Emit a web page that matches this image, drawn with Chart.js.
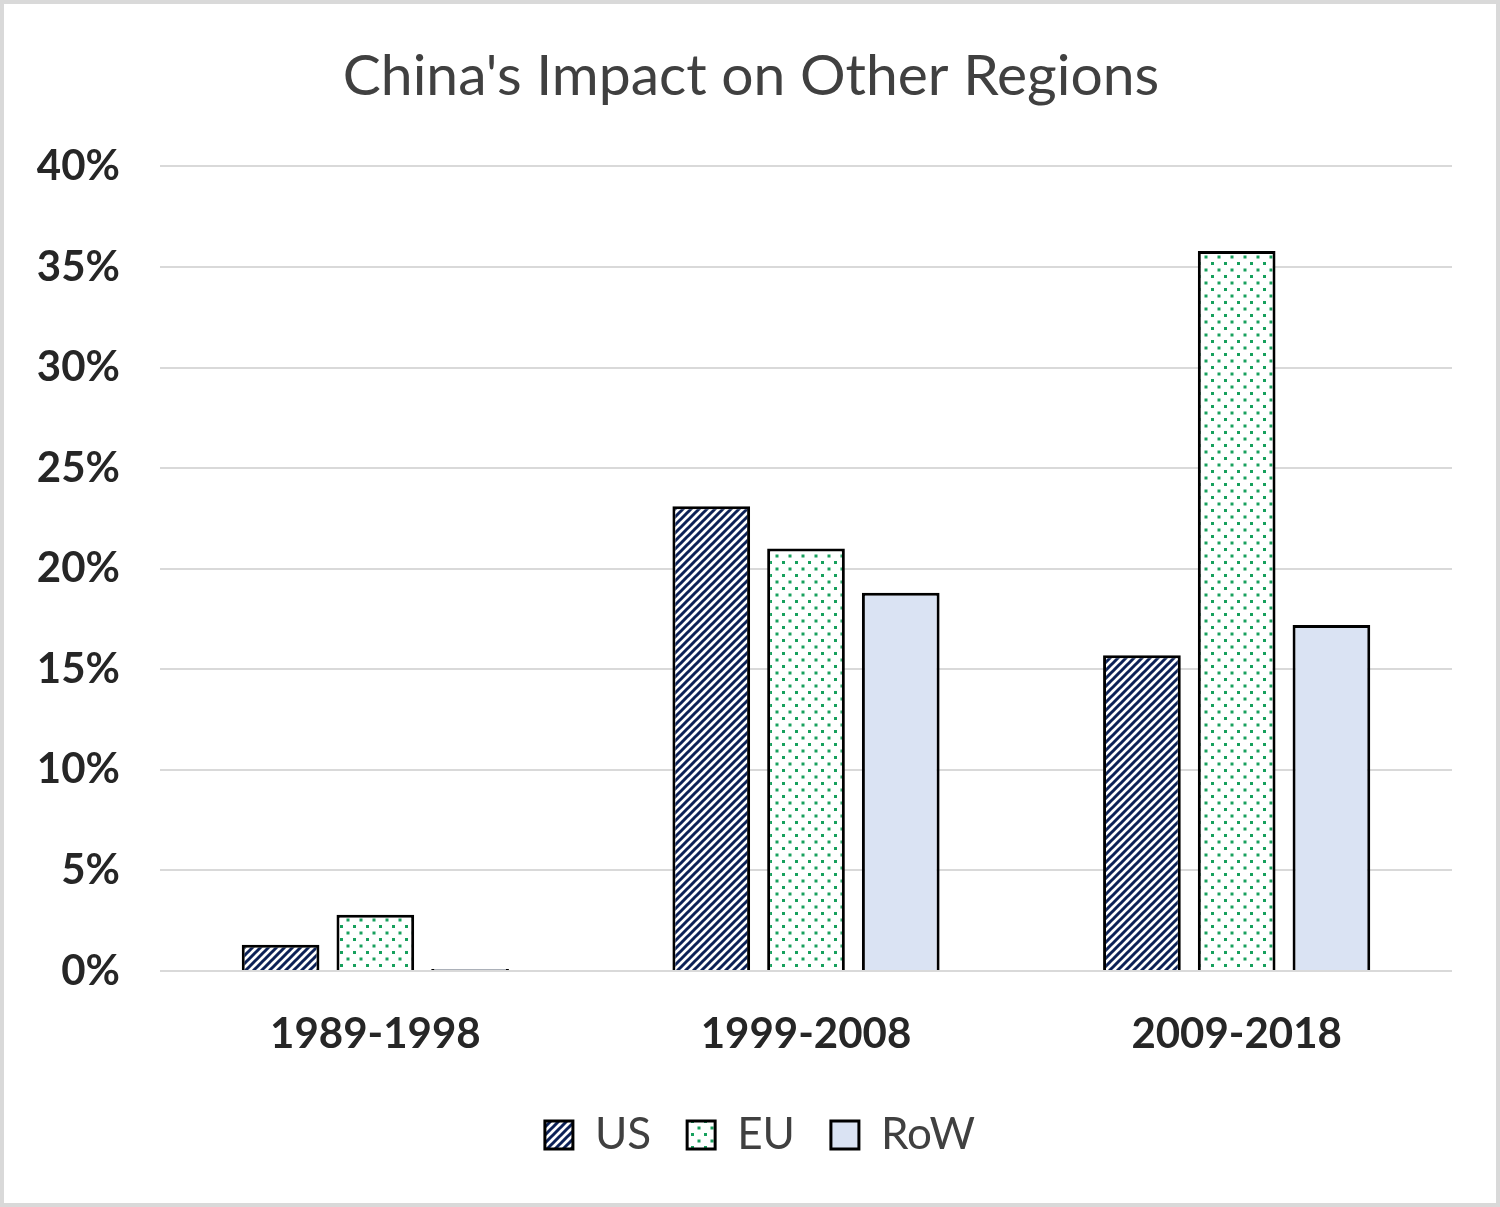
<!DOCTYPE html>
<html>
<head>
<meta charset="utf-8">
<script src="https://cdn.jsdelivr.net/npm/chart.js@4.4.0/dist/chart.umd.min.js"></script>
<style>
  html, body { margin: 0; padding: 0; background: #fff; }
  #wrap { width: 1500px; height: 1207px; position: relative; }
</style>
</head>
<body>
<div id="wrap"><canvas id="chart"></canvas></div>
<script>
const periods = ["1989-1998", "1999-2008", "2009-2018"];
const usValues = [1.3, 23.1, 15.7];
const euValues = [2.8, 21.0, 35.8];
const rowValues = [0.1, 18.8, 17.2];
const yTicks = [0, 5, 10, 15, 20, 25, 30, 35, 40];

// diagonal navy stripes for US
function stripePattern() {
  const c = document.createElement("canvas");
  c.width = 8; c.height = 8;
  const g = c.getContext("2d");
  g.fillStyle = "#fff";
  g.fillRect(0, 0, 8, 8);
  g.strokeStyle = "#0c2157";
  g.lineWidth = 3;
  g.beginPath();
  g.moveTo(-2, 10); g.lineTo(10, -2);
  g.moveTo(-2, 2); g.lineTo(2, -2);
  g.moveTo(6, 10); g.lineTo(10, 6);
  g.stroke();
  return g.createPattern(c, "repeat");
}

// green dots for EU
function dotPattern() {
  const c = document.createElement("canvas");
  c.width = 13; c.height = 13;
  const g = c.getContext("2d");
  g.fillStyle = "#fff";
  g.fillRect(0, 0, 13, 13);
  g.fillStyle = "#17a05d";
  g.fillRect(2, 2, 3, 3);
  g.fillRect(8.5, 8.5, 3, 3);
  return g.createPattern(c, "repeat");
}

const frame = {
  id: "frame",
  // title and legend sit a bit right of the canvas centre in the original
  afterLayout(chart) {
    chart.titleBlock.left = 50;
    chart.legend.left = 68;
  },
  afterDraw(chart) {
    const ctx = chart.ctx;
    ctx.save();
    ctx.strokeStyle = "#d9d9d9";
    ctx.lineWidth = 4;
    ctx.strokeRect(2, 2, chart.width - 4, chart.height - 4);
    ctx.restore();
  }
};

const bar = { borderColor: "#000", borderWidth: 3, barPercentage: 0.82, categoryPercentage: 0.66 };

new Chart(document.getElementById("chart"), {
  type: "bar",
  data: {
    labels: periods,
    datasets: [
      Object.assign({ label: "US", data: usValues, backgroundColor: stripePattern() }, bar),
      Object.assign({ label: "EU", data: euValues, backgroundColor: dotPattern() }, bar),
      Object.assign({ label: "RoW", data: rowValues, backgroundColor: "#dae3f3" }, bar)
    ]
  },
  plugins: [frame],
  options: {
    responsive: true,
    maintainAspectRatio: false,
    animation: false,
    layout: { padding: { left: 0, right: 48, top: 0, bottom: 40 } },
    plugins: {
      title: {
        display: true,
        text: "China's Impact on Other Regions",
        color: "#404040",
        font: { family: "Lato", size: 57, weight: "normal" },
        padding: { top: 42, bottom: 56 }
      },
      legend: {
        position: "bottom",
        labels: {
          color: "#404040",
          font: { family: "Lato", size: 44 },
          boxWidth: 28,
          boxHeight: 28,
          padding: 36
        }
      },
      tooltip: { enabled: false }
    },
    scales: {
      x: {
        grid: { display: false },
        border: { display: false },
        ticks: { color: "#262626", font: { family: "Lato", size: 42, weight: "bold" }, padding: 30 },
        afterFit(s) { s.height = 106; }
      },
      y: {
        min: 0,
        max: 40,
        afterBuildTicks(s) { s.ticks = yTicks.map(v => ({ value: v })); },
        grid: { color: "#d9d9d9", lineWidth: 2, drawTicks: false },
        border: { display: false },
        ticks: {
          color: "#262626",
          font: { family: "Lato", size: 42, weight: "bold" },
          padding: 40,
          callback: v => v + "%"
        },
        afterFit(s) { s.width = 160; }
      }
    }
  }
});
</script>
</body>
</html>
